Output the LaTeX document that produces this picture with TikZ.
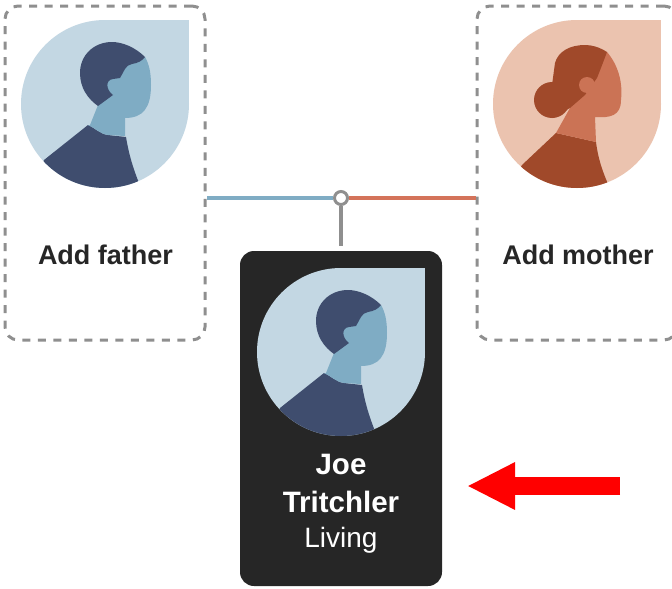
\documentclass[tikz,border=0pt]{standalone}
\usepackage{fontspec}
\setmainfont{Liberation Sans}
\usepackage{xcolor}
\usetikzlibrary{arrows.meta}
\definecolor{manback}{HTML}{C3D7E3}
\definecolor{manskin}{HTML}{7FACC4}
\definecolor{mandark}{HTML}{3F4D6E}
\definecolor{womanback}{HTML}{EBC3AF}
\definecolor{womanskin}{HTML}{CB7355}
\definecolor{womandark}{HTML}{A0492A}
\definecolor{cardgrey}{HTML}{262626}
\definecolor{stemgrey}{HTML}{8F8F8F}
\definecolor{lineblue}{HTML}{7FACC4}
\definecolor{linered}{HTML}{D4735A}
\tikzset{
	emptycard/.style={
			draw=stemgrey, dash pattern=on 8pt off 7.5pt, line width=3pt, fill=white,
			rounded corners=13pt, inner sep=0pt
		},
	namelabel/.style={font=\fontsize{27}{30}\selectfont\bfseries, text=#1, inner sep=0pt},
	joelabel/.style={font=\fontsize{29.5}{32}\selectfont\bfseries, text=white, inner sep=0pt},
	man/.pic={
			\fill[manback] (105,104) circle (84);
			\fill[manback] (105,20) rectangle (189,104);
			\begin{scope}
				\clip (105,104) circle (84);
				\fill[mandark] (44,160) -- (88,125) .. controls (95,128) and (100,134) .. (108,135) -- (126,137) .. controls (129,155) and (133,168) .. (139,183) -- (139,200) -- (30,200) -- cycle;
			\end{scope}
			\fill[manskin] (98,105) -- (90,125) -- (88,125) .. controls (95,128) and (100,134) .. (108,135) -- (125,136) -- (125,118) .. controls (143,118) and (151,108) .. (151,85) .. controls (151,72) and (149,64) .. (145,57) -- (110,70) -- cycle;
			\fill[mandark] (145,57) .. controls (135,47) and (122,42) .. (112,42) .. controls (94,42) and (80,55) .. (80,73) .. controls (80,88) and (88,99) .. (98,106) -- (113,95) .. controls (106,90) and (105,80) .. (113,79) -- (120,78) .. controls (124,72) and (125,65) .. (132,64) .. controls (138,63) and (142,61) .. (145,57) -- cycle;
		},
	woman/.pic={
			\fill[womanback] (105,104) circle (84);
			\fill[womanback] (105,20) rectangle (189,104);
			\begin{scope}
				\clip (105,104) circle (84);
				\fill[womandark] (50,165) -- (84,133) -- (124,142) .. controls (126,158) and (130,170) .. (136,184) -- (136,200) -- (30,200) -- cycle;
			\end{scope}
			\fill[womanskin] (98,108) -- (84,133) -- (124,142) -- (123,117) .. controls (138,118) and (149,116) .. (149,100) .. controls (151,82) and (146,65) .. (135,52) -- (110,70) -- cycle;
			\fill[womandark] (80,100) circle (18);
			\fill[womandark] (135,52) .. controls (127,47) and (120,45) .. (113,45) .. controls (97,45) and (86,52) .. (83,63) -- (80,85) -- (80,118) -- (98,108) -- (113,95) -- (125,78) .. controls (129,68) and (132,60) .. (135,52) -- cycle;
			\fill[womanskin] (115,85) circle (8);
		}
}
\begin{document}
\begin{tikzpicture}[x=1pt, y=-1pt]
	\useasboundingbox (0,0) rectangle (672,589);
	\clip (0,0) rectangle (672,589);
	\node[emptycard, minimum width=200pt, minimum height=334pt] (father) at (105,173) {};
	\node[emptycard, minimum width=200pt, minimum height=334pt] (mother) at (577,173) {};
	\node[fill=cardgrey, rounded corners=14pt, minimum width=202pt, minimum height=335pt, inner sep=0pt] (joe) at (341,418.5) {};
	\node[circle, draw=stemgrey, fill=white, line width=3pt, minimum size=13pt, inner sep=0pt] (junction) at (341,198) {};
	\pic at (0,0) {man};
	\pic at (472,0) {woman};
	\pic at (236,248) {man};
	\draw[lineblue, line width=3.5pt] (junction.west) -- (junction -| father.east);
	\draw[linered, line width=3.5pt] (junction.east) -- (junction -| mother.west);
	\draw[stemgrey, line width=3.5pt, shorten >=5pt] (junction.south) -- (joe.north);
	\node[namelabel=black!85] (addfather) at (105.5,255) {Add father};
	\node[namelabel=black!85] (addmother) at (578,255) {Add mother};
	\node[joelabel] (joename) at (341,464) {Joe};
	\node[joelabel] (joesurname) at (341,502) {Tritchler};
	\node[font=\fontsize{28}{30}\selectfont, text=white, inner sep=0pt] (joestatus) at (341,540.5) {Living};
	\coordinate (tail) at (620,486);
	\coordinate (tip) at (467,486);
	\draw[-{Triangle[length=48pt,width=44pt]}, red, line width=18pt] (tail) -- (tip);
\end{tikzpicture}
\end{document}
